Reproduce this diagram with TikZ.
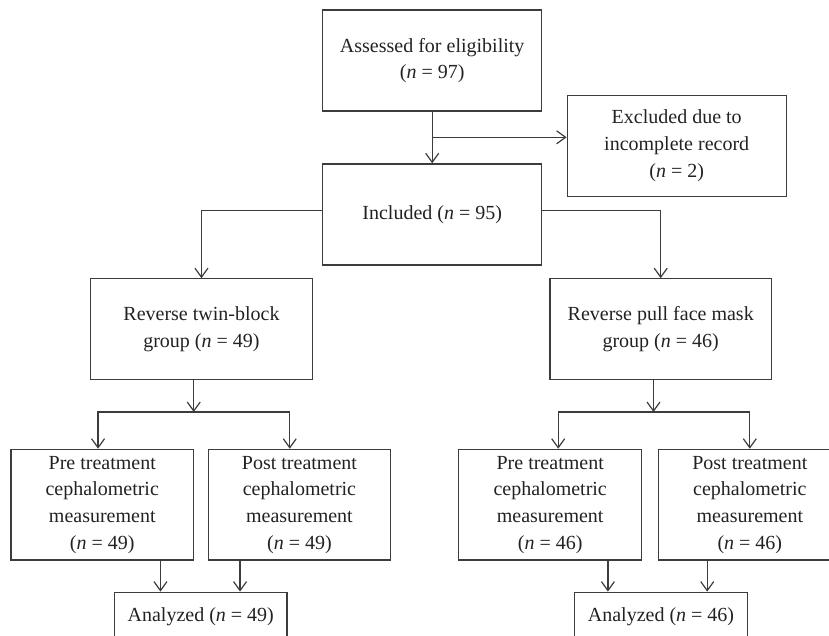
\documentclass[tikz,border=0pt]{standalone}
\usepackage{fontspec}
\setmainfont{Liberation Serif}
\usepackage{tikz}
\usetikzlibrary{arrows.meta, positioning, calc}
\usepackage{xcolor}
\definecolor{linegray}{HTML}{3C3C3C}
\definecolor{textgray}{HTML}{222222}

\begin{document}
\begin{tikzpicture}[
    x=1pt, y=-1pt,
    every node/.style={font=\fontsize{20}{26.7}\selectfont, text=textgray},
    box/.style={rectangle, draw=linegray, line width=1.2pt, align=center,
                minimum width=219pt, minimum height=101pt, inner sep=0pt},
    small/.style={box, minimum width=182.7pt, minimum height=110.7pt},
    anal/.style={box, anchor=north, minimum width=172.5pt, minimum height=0pt,
                 text height=29.3pt, text depth=40pt},
    arr/.style={-{Straight Barb[length=9pt, width=13pt]}, line width=1.2pt, draw=linegray}
]
    \useasboundingbox (0,0) rectangle (829,635);
    \clip (0,0) rectangle (829,635);

    \node[box] (assess) at (432.2,60.5) {Assessed for eligibility\\(\textit{n} = 97)};
    \node[box, below=51.7pt of assess] (incl) {Included (\textit{n} = 95)};
    \node[box, below right=-17pt and 24.3pt of assess] (excl) {Excluded due to\\incomplete record\\(\textit{n} = 2)};

    \node[box, minimum width=221.3pt, below left=12.7pt and 9.4pt of incl] (twin) {Reverse twin-block\\group (\textit{n} = 49)};
    \node[box, minimum width=221.6pt, below right=12.7pt and 7pt of incl] (mask) {Reverse pull face mask\\group (\textit{n} = 46)};

    \node[small, below=68.3pt of twin, xshift=-99.2pt] (preL) {Pre treatment\\cephalometric\\measurement\\(\textit{n} = 49)};
    \node[small, right=13.3pt of preL] (postL) {Post treatment\\cephalometric\\measurement\\(\textit{n} = 49)};
    \node[small, below=68.3pt of mask, xshift=-110.5pt] (preR) {Pre treatment\\cephalometric\\measurement\\(\textit{n} = 46)};
    \node[small, right=15.7pt of preR] (postR) {Post treatment\\cephalometric\\measurement\\(\textit{n} = 46)};

    \node[anal, below=31pt of preL, xshift=98.5pt] (analL) {Analyzed (\textit{n} = 49)};
    \node[anal, below=31pt of preR, xshift=110.8pt] (analR) {Analyzed (\textit{n} = 46)};

    \coordinate (brk) at ([yshift=-25.7pt]assess.south);
    \coordinate (splitL) at ([xshift=-7.7pt, yshift=-31.6pt]twin.south);
    \coordinate (splitR) at ([xshift=-7.2pt, yshift=-31.6pt]mask.south);
    \coordinate (inPreL) at ([xshift=-40.3pt]analL.north);
    \coordinate (inPostL) at ([xshift=39.3pt]analL.north);
    \coordinate (inPreR) at ([xshift=-53.1pt]analR.north);
    \coordinate (inPostR) at ([xshift=46.2pt]analR.north);

    \draw[arr] (assess) -- (incl);
    \draw[arr] (brk) -- (brk -| excl.west);
    \draw[arr] ([yshift=3.7pt]incl.west) -| (twin.north);
    \draw[arr] ([yshift=3.7pt]incl.east) -| (mask.north);

    \draw[arr] (twin.south -| splitL) -- (splitL);
    \draw[arr] (splitL) -| ([xshift=-4.2pt]preL.north);
    \draw[arr] (splitL) -| ([xshift=-9.7pt]postL.north);
    \draw[arr] (mask.south -| splitR) -- (splitR);
    \draw[arr] (splitR) -| ([xshift=8pt]preR.north);
    \draw[arr] (splitR) -| (postR.north);

    \draw[arr] (preL.south -| inPreL) -- (inPreL);
    \draw[arr] (postL.south -| inPostL) -- (inPostL);
    \draw[arr] (preR.south -| inPreR) -- (inPreR);
    \draw[arr] (postR.south -| inPostR) -- (inPostR);
\end{tikzpicture}
\end{document}
